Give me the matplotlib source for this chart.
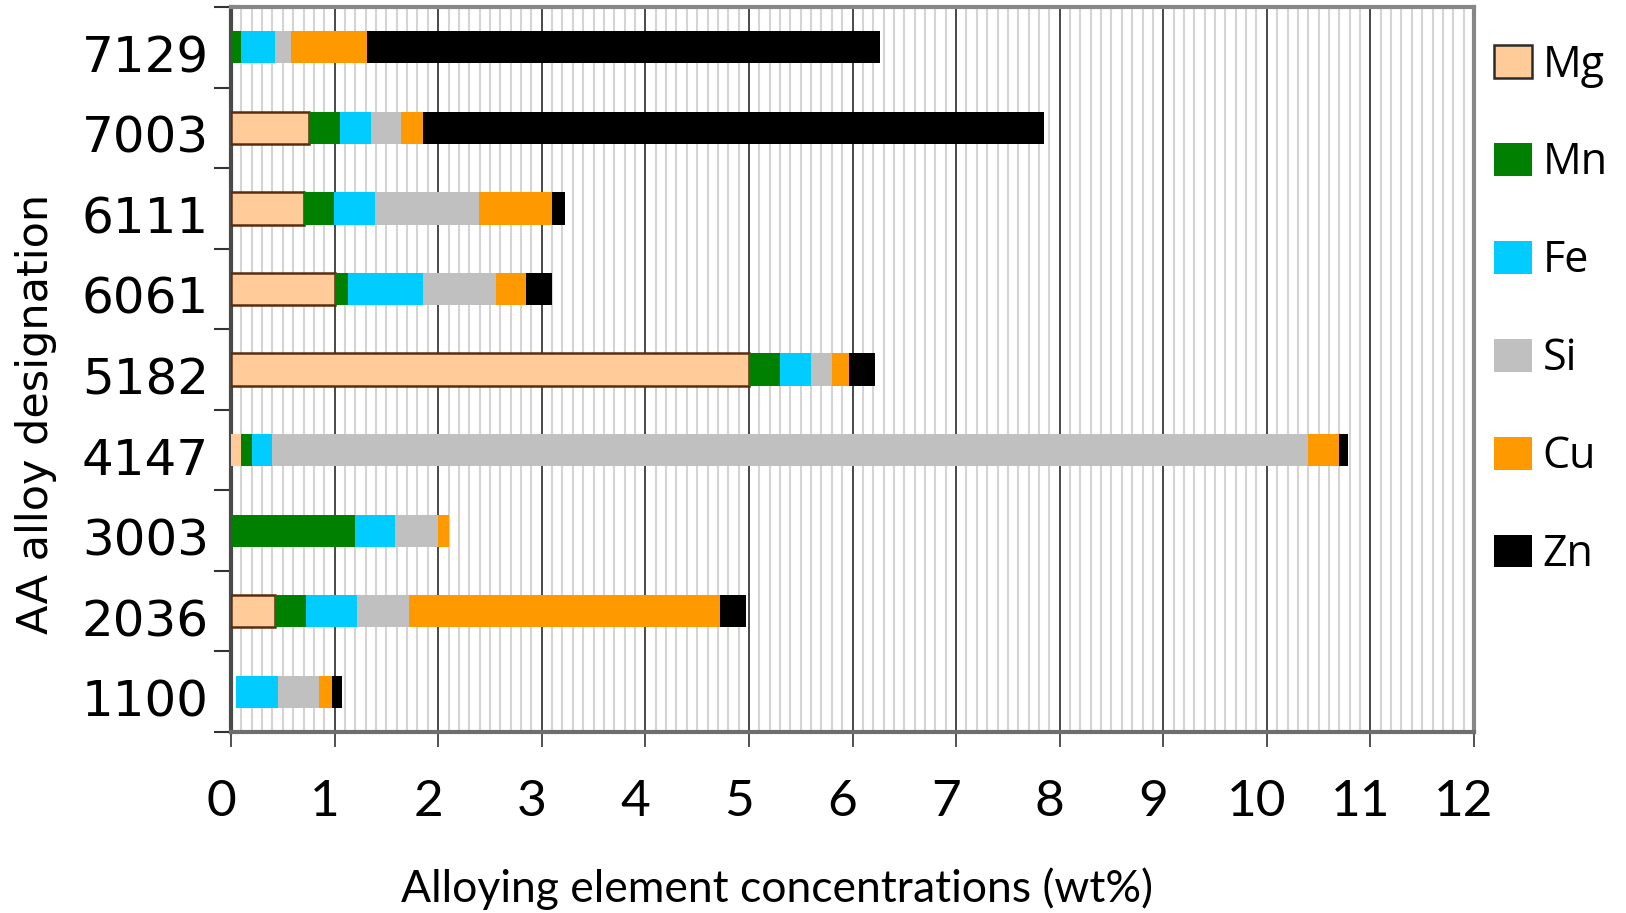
import numpy as np
import matplotlib
matplotlib.use('Agg')
import matplotlib.pyplot as plt
import matplotlib.transforms as mtransforms
from matplotlib.patches import Patch
from matplotlib.ticker import MultipleLocator, FixedLocator, NullFormatter

# ── Data (wt%) ────────────────────────────────────────────────────────────────
alloys = ['7129', '7003', '6111', '6061', '5182', '4147', '3003', '2036', '1100']
blank  = [0.0, 0.0, 0.0, 0.0, 0.0, 0.0, 0.0, 0.0, 0.05]   # unfilled lead-in
mg = [0.0, 0.75, 0.70, 1.00, 5.00, 0.10, 0.00, 0.42, 0.00]
mn = [0.10, 0.30, 0.29, 0.13, 0.30, 0.10, 1.20, 0.30, 0.00]
fe = [0.32, 0.30, 0.40, 0.72, 0.30, 0.20, 0.38, 0.50, 0.40]
si = [0.16, 0.29, 1.00, 0.71, 0.20, 10.00, 0.42, 0.50, 0.40]
cu = [0.73, 0.21, 0.71, 0.29, 0.17, 0.30, 0.10, 3.00, 0.12]
zn = [4.96, 6.00, 0.12, 0.25, 0.25, 0.08, 0.00, 0.25, 0.10]

elements = ['Mg', 'Mn', 'Fe', 'Si', 'Cu', 'Zn']
series   = [mg, mn, fe, si, cu, zn]
colors   = ['#FFCC99', '#008000', '#00CCFF', '#C0C0C0', '#FF9900', '#000000']
MG_EDGE  = '#5A2D0C'

# ── Figure ────────────────────────────────────────────────────────────────────
fig = plt.figure(figsize=(16.26, 9.13), dpi=100)
ax = fig.add_axes([0.1421, 0.1982, 0.7644, 0.7941])

y = np.arange(len(alloys))
left = np.array(blank, dtype=float)
handles = []
for name, vals, col in zip(elements, series, colors):
    vals = np.array(vals, dtype=float)
    if name == 'Mg':
        # outline only on the wider Mg segments
        lw = np.where(vals > 0.2, 1.8, 0.0)
        ax.barh(y, vals, left=left, height=0.4, color=col, edgecolor=MG_EDGE,
                linewidth=lw, zorder=3)
        handles.append(Patch(facecolor=col, edgecolor='#2B2B2B', linewidth=1.8, label=name))
    else:
        ax.barh(y, vals, left=left, height=0.4, color=col, linewidth=0, zorder=3)
        handles.append(Patch(facecolor=col, linewidth=0, label=name))
    left += vals

ax.set_xlim(0, 12)
ax.set_ylim(len(alloys) - 0.5, -0.5)

# x axis: integer majors, 0.1 minors (grid only)
ax.xaxis.set_major_locator(MultipleLocator(1))
ax.xaxis.set_minor_locator(MultipleLocator(0.1))
ax.set_axisbelow(True)
ax.grid(which='minor', axis='x', color='#D4D4D4', lw=1.5, zorder=0)
ax.grid(which='major', axis='x', color='#3A3A3A', lw=1.3, zorder=1)
ax.tick_params(axis='x', which='major', direction='out', length=11, width=1.2,
               color='#333333', pad=23, labelsize=37)
ax.tick_params(axis='x', which='minor', length=0)
shift_x = mtransforms.ScaledTranslation(-10 / 100, 0, fig.dpi_scale_trans)
for lab in ax.get_xticklabels():
    lab.set_family('Lato')
    lab.set_transform(lab.get_transform() + shift_x)

# y axis: tick marks between categories, labels at the centres
ax.yaxis.set_major_locator(FixedLocator(np.arange(len(alloys) + 1) - 0.5))
ax.yaxis.set_major_formatter(NullFormatter())
ax.yaxis.set_minor_locator(FixedLocator(y))
ax.set_yticks(y, alloys, minor=True)
ax.tick_params(axis='y', which='major', direction='out', length=12, width=1.5,
               color='#333333')
ax.tick_params(axis='y', which='minor', length=0, pad=16, labelsize=36)
shift_y = mtransforms.ScaledTranslation(0, -6 / 100, fig.dpi_scale_trans)
for lab in ax.get_yticklabels(minor=True):
    lab.set_family('DejaVu Sans')
    lab.set_transform(lab.get_transform() + shift_y)

ax.spines['top'].set_color('#878787')
ax.spines['right'].set_color('#878787')
ax.spines['bottom'].set_color('#6E6E6E')
ax.spines['left'].set_color('#4A4A4A')
for sp in ax.spines.values():
    sp.set_linewidth(3)

fig.text(0.022, 0.5466, 'AA alloy designation', rotation=90, ha='center',
         va='center', fontsize=31, family='DejaVu Sans')
fig.text(0.478, 0.027, 'Alloying element concentrations (wt%)', ha='center',
         va='center', fontsize=32, family='Lato')

fig.legend(handles=handles, loc='upper left',
           bbox_to_anchor=(1494 / 1626, 1 - 43 / 913),
           frameon=False, prop={'family': 'Open Sans', 'size': 31},
           handlelength=0.88, handleheight=0.8, handletextpad=0.25,
           labelspacing=1.24, borderaxespad=0, borderpad=0)

fig.savefig('out.png', dpi=100, facecolor='white')
